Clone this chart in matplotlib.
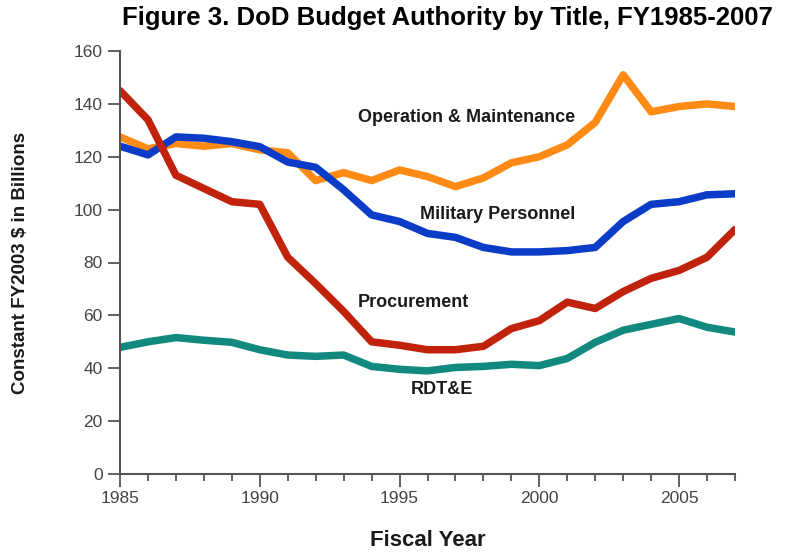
import matplotlib
matplotlib.use("Agg")
import matplotlib.pyplot as plt
from matplotlib.ticker import MultipleLocator

years = list(range(1985, 2008))
om = [127.5, 123, 125, 124, 125, 122.6, 121.5, 111, 114, 111, 115, 112.5, 108.7,
      112, 117.7, 120, 124.5, 133, 151, 137, 139, 140, 139]
milpers = [124, 120.7, 127.5, 127, 125.7, 123.8, 118, 116, 107.5, 98, 95.5, 91, 89.5,
           85.7, 84, 84, 84.5, 85.7, 95.5, 102, 103, 105.6, 106]
procurement = [145, 134, 113, 108, 103, 102, 82, 72, 61.5, 50, 48.7, 47, 47,
               48.3, 55, 58, 65, 62.6, 69, 74, 77, 82, 92.5]
rdte = [47.9, 50, 51.6, 50.6, 49.8, 47, 45, 44.5, 45, 40.7, 39.6, 39, 40.3,
        40.7, 41.5, 41, 43.7, 49.8, 54.4, 56.6, 58.8, 55.5, 53.7]

series_names = ["Operation & Maintenance", "Military Personnel", "Procurement", "RDT&E"]
colors = ["#FF8A14", "#0A3CC8", "#C0220C", "#12897F"]
label_pos = [(1997.4, 134.7), (1998.5, 98), (1995.5, 65), (1996.5, 32)]

plt.rcParams['font.family'] = ['Liberation Sans', 'DejaVu Sans']
fig = plt.figure(figsize=(7.89, 5.54), dpi=100)
ax = fig.add_axes([120/789, 1-474/554, (735-120)/789, (474-51)/554])

for vals, c in zip([om, milpers, procurement, rdte], colors):
    ax.plot(years, vals, color=c, lw=5.4, solid_joinstyle='round', solid_capstyle='round')

for name, (lx, ly) in zip(series_names, label_pos):
    ax.text(lx, ly, name, ha='center', va='center', fontsize=13, fontweight='bold', color='#1a1a1a')

ax.set_xlim(1985, 2007)
ax.set_ylim(0, 160)
ax.xaxis.set_major_locator(MultipleLocator(5))
ax.xaxis.set_minor_locator(MultipleLocator(1))
ax.yaxis.set_major_locator(MultipleLocator(20))
for s in ['top', 'right']:
    ax.spines[s].set_visible(False)
for s in ['left', 'bottom']:
    ax.spines[s].set_color('#555555')
    ax.spines[s].set_linewidth(1.5)
ax.tick_params(axis='both', which='major', length=9, width=1.3, color='#555555',
               labelsize=12.5, labelcolor='#444444', direction='out')
ax.tick_params(axis='x', which='minor', length=5, width=1.3, color='#555555', direction='out')

ax.set_xlabel("Fiscal Year", fontsize=16, fontweight='bold', color='#1a1a1a')
ax.xaxis.label.set_va('center')
ax.xaxis.set_label_coords(0.5, (474-541)/423)
ax.set_ylabel("Constant FY2003 $ in Billions", fontsize=13.5, fontweight='bold', color='#1a1a1a')
ax.yaxis.label.set_va('center')
ax.yaxis.set_label_coords((21-120)/615, 0.5)
fig.text(447.5/789, 1-18/554, "Figure 3. DoD Budget Authority by Title, FY1985-2007",
         ha='center', va='center', fontsize=18.5, fontweight='bold', color='black')

fig.savefig("out.png", dpi=100)
